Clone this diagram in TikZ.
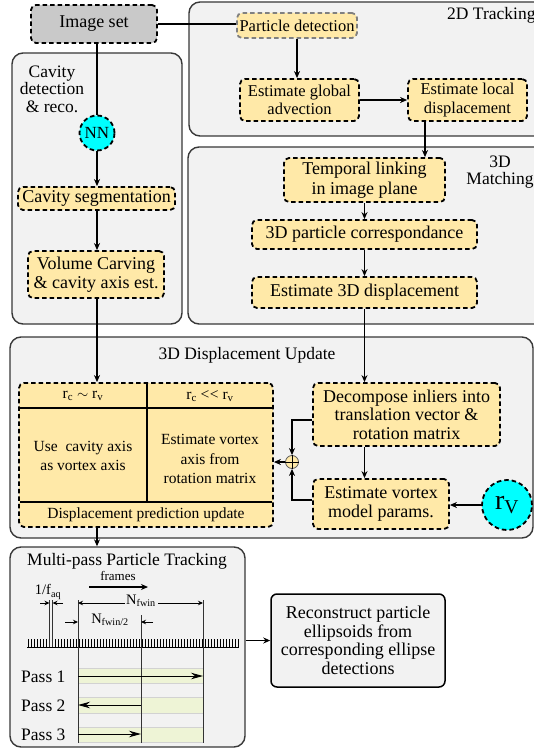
\documentclass[tikz,border=0pt]{standalone}
\usepackage{fontspec}
\setmainfont{Liberation Serif}
\usetikzlibrary{arrows.meta}
\definecolor{yel}{HTML}{FFE9A8}
\definecolor{grpfill}{HTML}{F2F2F2}
\definecolor{imgfill}{HTML}{C9C9C9}
\definecolor{band}{HTML}{EEF4D6}
\definecolor{grpline}{HTML}{383838}
\definecolor{cyn}{RGB}{0,255,255}
\tikzset{
 ybox/.style={draw=black, line width=1.8pt, dash pattern=on 4.5pt off 3pt, fill=yel, rounded corners=5pt, align=center, inner sep=0pt, font=\fontsize{18}{19.5}\selectfont},
 dcirc/.style={circle, draw=black, line width=1.8pt, dash pattern=on 4.5pt off 3pt, fill=cyn, inner sep=0pt},
 grp/.style={draw=grpline, line width=1.4pt, fill=grpfill, rounded corners=11pt, inner sep=0pt},
 arr/.style={-{Stealth[length=7pt,width=6pt]}, line width=1.3pt},
 sarr/.style={-{Stealth[length=5pt,width=4.5pt]}, line width=0.9pt},
 barr/.style={-{Stealth[length=12pt,width=6.5pt]}, line width=1pt},
 ln/.style={line width=1.3pt},
 lbl/.style={font=\fontsize{17.5}{17.5}\selectfont, align=center, inner sep=0pt},
 tt/.style={font=\fontsize{15.5}{19.5}\selectfont, align=center, inner sep=0pt},
 sm/.style={font=\fontsize{14.5}{15}\selectfont, inner sep=0pt},
}
\begin{document}
\begin{tikzpicture}[x=1pt,y=-1pt]
\clip (0,0) rectangle (534,751);
\fill[white] (0,0) rectangle (534,751);

% groups
\node[grp, minimum width=371pt, minimum height=134pt] (g2d) at (374.5,69) {};
\node[grp, minimum width=372pt, minimum height=177pt] (g3m) at (374,235.5) {};
\node[grp, minimum width=170pt, minimum height=271pt] (gcav) at (97,188.5) {};
\node[grp, minimum width=523pt, minimum height=201pt] (g3u) at (271.5,437.5) {};
\node[grp, minimum width=235pt, minimum height=200pt] (mp) at (127.5,647) {};

% group labels
\node[lbl, anchor=west] (l2d) at (447,15) {2D Tracking};
\node[lbl] (l3m) at (500,172) {3D\\Matching};
\node[lbl] (lcav) at (52,89) {Cavity\\detection\\\& reco.};
\node[lbl] (l3u) at (247,355) {3D Displacement Update};
\node[lbl] (lmp) at (127,561) {Multi-pass Particle Tracking};

% boxes
\node[ybox, fill=imgfill, minimum width=126pt, minimum height=38pt] (img) at (94,24) {Image set};
\node[ybox, draw=gray, minimum width=120pt, minimum height=25pt, font=\fontsize{16.5}{18}\selectfont] (pd) at (297,25.5) {Particle detection};
\node[ybox, minimum width=119pt, minimum height=42pt, font=\fontsize{16.5}{18.5}\selectfont] (ega) at (299.5,100) {Estimate global\\advection};
\node[ybox, minimum width=119pt, minimum height=42pt, font=\fontsize{16.5}{18.5}\selectfont] (eld) at (467.5,100) {Estimate local\\displacement};
\node[ybox, minimum width=161pt, minimum height=44pt] (tl) at (364.5,180) {Temporal linking\\in image plane};
\node[ybox, minimum width=225pt, minimum height=29pt] (pc) at (364.5,234.5) {3D particle correspondance};
\node[ybox, minimum width=225pt, minimum height=31pt] (e3d) at (364.5,292.5) {Estimate 3D displacement};
\node[dcirc, minimum size=35pt, font=\fontsize{17}{17}\selectfont] (nn) at (97,133) {NN};
\node[ybox, minimum width=157pt, minimum height=23pt] (cs) at (96.5,198.5) {Cavity segmentation};
\node[ybox, minimum width=136pt, minimum height=47pt] (vc) at (96,274.5) {Volume Carving\\\& cavity axis est.};

% table
\node[ybox, minimum width=254pt, minimum height=144pt] (tab) at (146,455) {};
\draw[line width=1.2pt] (20,408) -- (272,408);
\draw[line width=1.2pt] (20,502) -- (272,502);
\draw[line width=1.2pt] (147,384) -- (147,502);
\node[tt] (h1) at (83,396) {r\textsubscript{c} $\sim$ r\textsubscript{v}};
\node[tt] (h2) at (210,396) {r\textsubscript{c} <\kern0.5pt< r\textsubscript{v}};
\node[tt] (c1) at (83,456) {Use\ \ cavity axis\\as vortex axis};
\node[tt] (c2) at (210,459) {Estimate vortex\\axis from\\rotation matrix};
\node[tt] (c3) at (146,515) {Displacement prediction update};

\node[ybox, minimum width=187pt, minimum height=63pt, font=\fontsize{18}{18.5}\selectfont] (dec) at (406.5,414.5) {Decompose inliers into\\translation vector \&\\rotation matrix};
\node[ybox, minimum width=136pt, minimum height=50pt] (evm) at (381,504) {Estimate vortex\\model params.};
\node[dcirc, minimum size=50pt, font=\fontsize{28}{28}\selectfont] (rv) at (507,505) {r\textsubscript{V}};
\node[circle, draw=gray!70!black, fill=yel, line width=0.8pt, minimum size=13pt, inner sep=0pt] (op) at (292,462) {};
\draw[line width=0.8pt] (op.north) -- (op.south) (op.west) -- (op.east);

% reconstruct
\node[draw=black, line width=1.5pt, fill=grpfill, rounded corners=6pt, minimum width=174pt, minimum height=93pt, align=center, inner sep=0pt, font=\fontsize{18}{18.5}\selectfont] (rec) at (358,640.5) {Reconstruct particle\\ellipsoids from\\corresponding ellipse\\detections};

% connectors
\draw[ln] (img.east) -- (img.east -| pd.west);
\draw[ln] (img.south -| nn.north) -- (nn.north);
\draw[arr] (nn.south) -- (cs.north -| nn.south);
\draw[arr] (cs.south -| nn.south) -- (vc.north -| nn.south);
\draw[arr] (vc.south -| nn.south) -- (tab.north -| nn.south);
\draw[arr] (tab.south -| nn.south) -- (mp.north -| nn.south);
\draw[arr] (pd.south) -- (pd.south |- ega.north);
\draw[arr] (ega.east) -- (eld.west);
\draw[arr] ([xshift=-42.5pt]eld.south) -- ([xshift=-42.5pt]eld.south |- tl.north);
\draw[arr] (tl.south) -- (pc.north);
\draw[arr] (pc.south) -- (e3d.north);
\draw[arr] (e3d.south) -- (e3d.south |- dec.north);
\draw[arr] (e3d.south |- dec.south) -- (e3d.south |- evm.north);
\draw[arr] (rv.west) -- (rv.west -| evm.east);
\draw[arr] ([yshift=-5.5pt]dec.west) -| (op.north);
\draw[arr] ([yshift=4pt]evm.west) -| (op.south);
\draw[arr] (op.west) -- (op.west -| tab.east);
\draw[arr] (mp.east |- rec.west) -- (rec.west);

% multi-pass details
\node[font=\fontsize{13}{13}\selectfont, inner sep=0pt] (fr) at (118,576) {frames};
\draw[arr] (89,587) -- (148,587);
\node[sm] (faq) at (48,592) {1/f\textsubscript{aq}};
\node[sm] (nf) at (141,601) {N\textsubscript{fwin}};
\node[sm] (nf2) at (110,620) {N\textsubscript{fwin/2}};
% bands
\foreach \ya/\yb in {668/683,697/713,727/742}
  \filldraw[fill=band, draw=gray!35, line width=0.5pt] (78,\ya) rectangle (203,\yb);
% ruler
\draw[line width=1pt] (27,647) -- (239,647);
\foreach \x in {28,31,...,238} \draw[line width=0.7pt] (\x,639) -- (\x,647);
% verticals
\draw[line width=1pt, black!80] (49.5,600) -- (49.5,647);
\draw[line width=1pt, black!80] (52.5,600) -- (52.5,647);
\draw[line width=1pt, black!80] (78,600) -- (78,743);
\draw[line width=1pt, black!80] (141,615) -- (141,743);
\draw[line width=1pt, black!80] (203,600) -- (203,743);
\draw[sarr] (40,603) -- (49.5,603);
\draw[sarr] (63,603) -- (52.5,603);
\draw[sarr] (125,603) -- (78,603);
\draw[sarr] (158,603) -- (203,603);
\draw[sarr] (65,622) -- (78,622);
\draw[sarr] (153,622) -- (141,622);
% passes
\draw[barr] (78,676) -- (203,676);
\draw[barr] (141,705) -- (78,705);
\draw[barr] (78,734) -- (141,734);
\node[lbl, anchor=west] (p1) at (21,677) {Pass 1};
\node[lbl, anchor=west] (p2) at (21,706) {Pass 2};
\node[lbl, anchor=west] (p3) at (21,735) {Pass 3};
\end{tikzpicture}
\end{document}
